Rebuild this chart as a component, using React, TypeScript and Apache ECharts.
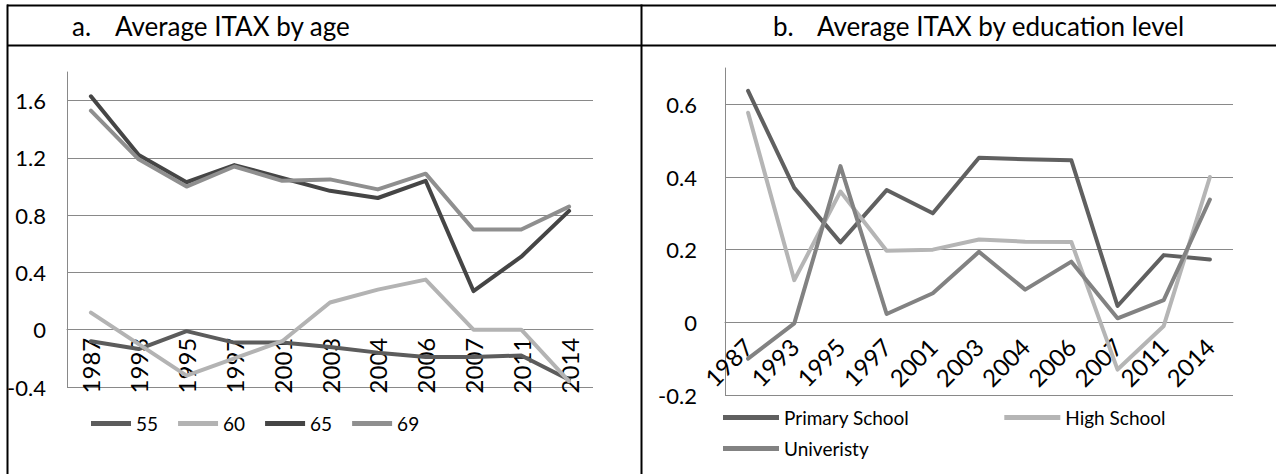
import React, { useEffect, useRef } from "react";
import * as echarts from "echarts";

const years = ["1987", "1993", "1995", "1997", "2001", "2003", "2004", "2006", "2007", "2011", "2014"];

const age55 = [-0.08, -0.135, -0.01, -0.09, -0.09, -0.12, -0.16, -0.19, -0.19, -0.18, -0.35];
const age60 = [0.12, -0.1, -0.32, -0.2, -0.08, 0.19, 0.28, 0.35, 0.0, 0.0, -0.36];
const age65 = [1.63, 1.22, 1.03, 1.15, 1.06, 0.97, 0.92, 1.04, 0.27, 0.51, 0.83];
const age69 = [1.53, 1.19, 1.0, 1.14, 1.04, 1.05, 0.98, 1.09, 0.7, 0.7, 0.86];

const primary = [0.637, 0.37, 0.22, 0.364, 0.3, 0.453, 0.449, 0.446, 0.045, 0.185, 0.173];
const highSchool = [0.577, 0.116, 0.36, 0.197, 0.2, 0.228, 0.222, 0.221, -0.13, -0.01, 0.4];
const university = [-0.1, -0.003, 0.43, 0.023, 0.08, 0.194, 0.09, 0.167, 0.011, 0.061, 0.338];

const titleA = "Average ITAX by age";
const titleB = "Average ITAX by education level";

const FONT = "Lato, 'Noto Sans', sans-serif";
const GRID = "#898989";

// axis ranges
const aMin = -0.4, aMax = 1.8, aStep = 0.4;
const bMin = -0.2, bMax = 0.7, bStep = 0.2;
// grid layout
const gA = { left: 67, top: 72, width: 526, height: 315 };
const gB = { left: 725, top: 68, width: 508, height: 327 };

export default function App() {
  const ref = useRef<HTMLDivElement>(null);
  useEffect(() => {
    if (!ref.current) return;
    const chart = echarts.init(ref.current, null, { renderer: "svg" });
    const lineSeries = (name: string, data: number[], color: string, idx: number) => ({
      name,
      type: "line",
      xAxisIndex: idx,
      yAxisIndex: idx,
      data,
      symbol: "none",
      lineStyle: { color, width: 4, cap: "round", join: "round" },
      itemStyle: { color },
    });
    const yLabel = (max: number, margin: number) => ({
      fontFamily: FONT,
      fontSize: 22,
      color: "#000",
      margin,
      showMaxLabel: false,
      formatter: (v: number) => (Math.abs(v - max) < 1e-9 ? "" : String(Math.round(v * 10) / 10)),
    });
    const splitColors = (min: number, max: number, step: number) => {
      const n = Math.floor((max - min) / step + 1e-9) + 1;
      const arr: string[] = [];
      for (let i = 0; i < n; i++) arr.push(GRID);
      arr.push("rgba(0,0,0,0)");
      return arr;
    };
    // place category axis on the zero line (Excel style)
    const offA = -((0 - aMin) / (aMax - aMin)) * gA.height;
    const offB = -((0 - bMin) / (bMax - bMin)) * gB.height;
    const legendText = { fontFamily: FONT, fontSize: 19, color: "#000" };
    chart.setOption({
      animation: false,
      backgroundColor: "#fff",
      textStyle: { fontFamily: FONT },
      grid: [gA, gB],
      xAxis: [
        {
          type: "category",
          gridIndex: 0,
          data: years,
          boundaryGap: true,
          offset: offA,
          axisLine: { onZero: false, lineStyle: { color: GRID, width: 1 } },
          axisTick: { show: false },
          axisLabel: { rotate: 90, fontFamily: FONT, fontSize: 24, color: "#000", margin: 8, interval: 0 },
        },
        {
          type: "category",
          gridIndex: 1,
          data: years,
          boundaryGap: true,
          offset: offB,
          axisLine: { onZero: false, lineStyle: { color: GRID, width: 1 } },
          axisTick: { show: false },
          axisLabel: { rotate: 45, fontFamily: FONT, fontSize: 24, color: "#000", margin: 20, interval: 0 },
        },
      ],
      yAxis: [
        {
          type: "value",
          gridIndex: 0,
          min: aMin,
          max: aMax,
          interval: aStep,
          axisLine: { show: true, lineStyle: { color: GRID, width: 1 } },
          axisTick: { show: false },
          splitLine: { show: true, lineStyle: { color: splitColors(aMin, aMax, aStep), width: 1 } },
          axisLabel: yLabel(aMax, 21),
        },
        {
          type: "value",
          gridIndex: 1,
          min: bMin,
          max: bMax,
          interval: bStep,
          axisLine: { show: true, lineStyle: { color: GRID, width: 1 } },
          axisTick: { show: false },
          splitLine: { show: true, lineStyle: { color: splitColors(bMin, bMax, bStep), width: 1 } },
          axisLabel: yLabel(bMax, 28),
        },
      ],
      legend: [
        {
          data: ["55", "60", "65", "69"],
          left: 86,
          top: 409,
          orient: "horizontal",
          icon: "rect",
          itemWidth: 40,
          itemHeight: 5,
          itemGap: 20,
          textStyle: legendText,
        },
        {
          data: ["Primary School", "High School"],
          left: 718,
          top: 403,
          orient: "horizontal",
          icon: "rect",
          itemWidth: 56,
          itemHeight: 5,
          itemGap: 95,
          textStyle: legendText,
        },
        {
          data: ["Univeristy"],
          left: 718,
          top: 434,
          orient: "horizontal",
          icon: "rect",
          itemWidth: 56,
          itemHeight: 5,
          textStyle: legendText,
        },
      ],
      series: [
        lineSeries("55", age55, "#5c5c5c", 0),
        lineSeries("60", age60, "#b3b3b3", 0),
        lineSeries("65", age65, "#454545", 0),
        lineSeries("69", age69, "#8f8f8f", 0),
        lineSeries("Primary School", primary, "#606060", 1),
        lineSeries("High School", highSchool, "#b5b5b5", 1),
        lineSeries("Univeristy", university, "#828282", 1),
      ],
      graphic: [
        { type: "line", shape: { x1: 7, y1: 5.5, x2: 1276, y2: 5.5 }, style: { stroke: "#000", lineWidth: 2 } },
        { type: "line", shape: { x1: 7, y1: 45.5, x2: 1276, y2: 45.5 }, style: { stroke: "#000", lineWidth: 2 } },
        { type: "line", shape: { x1: 7.5, y1: 4.5, x2: 7.5, y2: 474 }, style: { stroke: "#000", lineWidth: 2 } },
        { type: "line", shape: { x1: 641.5, y1: 4.5, x2: 641.5, y2: 474 }, style: { stroke: "#000", lineWidth: 2 } },
        { type: "text", x: 72, y: 26, style: { text: "a.", font: `26px ${FONT}`, fill: "#000", textVerticalAlign: "middle" } },
        { type: "text", x: 115, y: 26, style: { text: titleA, font: `26px ${FONT}`, fill: "#000", textVerticalAlign: "middle" } },
        { type: "text", x: 773, y: 26, style: { text: "b.", font: `26px ${FONT}`, fill: "#000", textVerticalAlign: "middle" } },
        { type: "text", x: 817, y: 26, style: { text: titleB, font: `26px ${FONT}`, fill: "#000", textVerticalAlign: "middle" } },
      ],
    });
    return () => chart.dispose();
  }, []);
  return (
    <div
      ref={ref}
      style={{ position: "absolute", left: 0, top: 0, width: 1276, height: 474, background: "#fff" }}
    />
  );
}
